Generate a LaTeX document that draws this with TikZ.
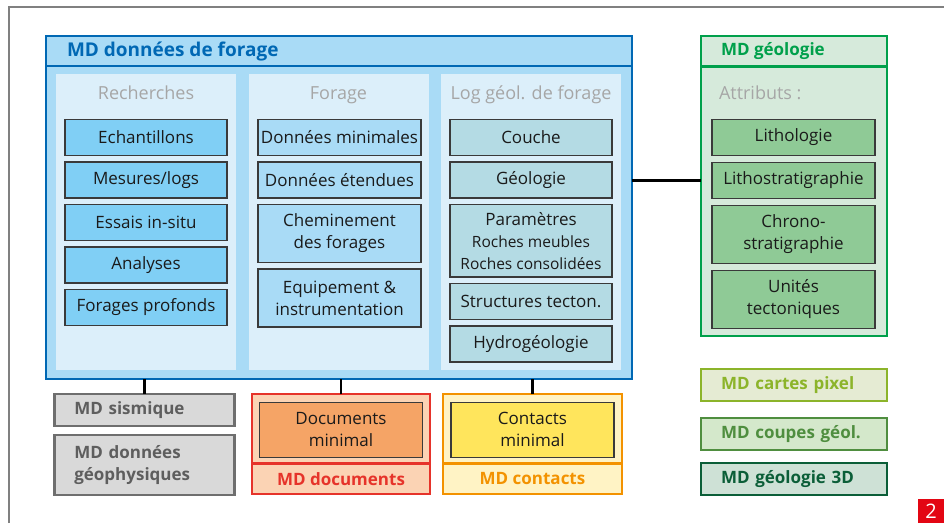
\documentclass[tikz,border=0pt]{standalone}
\usepackage{fontspec}
\setmainfont{Open Sans}
\usetikzlibrary{positioning}
\definecolor{framegray}{HTML}{808080}
\definecolor{blueDark}{HTML}{0068B4}
\definecolor{blueFill}{HTML}{A9DBF6}
\definecolor{blueCol}{HTML}{DCEFFA}
\definecolor{blueItem}{HTML}{80CFF5}
\definecolor{tealItem}{HTML}{B4DBE4}
\definecolor{headGray}{HTML}{A6A6A6}
\definecolor{itemLine}{HTML}{3A3A3A}
\definecolor{itemText}{HTML}{1A1A1A}
\definecolor{greenLine}{HTML}{00A04B}
\definecolor{greenFill}{HTML}{D6EADB}
\definecolor{greenItem}{HTML}{8FCA96}
\definecolor{grayLine}{HTML}{6E6E6E}
\definecolor{grayFill}{HTML}{D9D9D9}
\definecolor{grayText}{HTML}{5E5E5E}
\definecolor{redLine}{HTML}{E6332A}
\definecolor{redFill}{HTML}{FBD3B4}
\definecolor{orangeItem}{HTML}{F5A466}
\definecolor{orangeLine}{HTML}{F39200}
\definecolor{yellowFill}{HTML}{FFF3C5}
\definecolor{yellowItem}{HTML}{FFE55C}
\definecolor{pixLine}{HTML}{8CB42A}
\definecolor{pixFill}{HTML}{E5EBD3}
\definecolor{cutLine}{HTML}{4F8E3F}
\definecolor{cutFill}{HTML}{D4E8CB}
\definecolor{solidLine}{HTML}{0B5E38}
\definecolor{solidFill}{HTML}{CEE1D6}
\definecolor{numRed}{HTML}{E30613}
\newcommand{\itemfont}{\fontsize{17}{22}\selectfont}
\newcommand{\headfont}{\fontsize{18}{22}\selectfont}
\newcommand{\smallfont}{\fontsize{15.5}{20}\selectfont}
\newcommand{\titlefont}{\bfseries\fontsize{17}{22}\selectfont}

\begin{document}
\begin{tikzpicture}[x=1pt, y=-1pt, node distance=6.5pt,
  every node/.style={inner sep=0pt, outer sep=0pt},
  mdbox/.style={line width=2.5pt, minimum width=#1},
  mditem/.style={draw=itemLine, line width=1.4pt, minimum width=162pt, minimum height=36pt, align=center, text=itemText, font=\itemfont},
  tallitem/.style={mditem, minimum height=58pt},
  colbg/.style={fill=blueCol, minimum width=180pt, minimum height=296pt},
  colhead/.style={text=headGray, font=\headfont, text height=13pt, text depth=4pt},
  sidebox/.style={line width=2.5pt, inner xsep=20pt, text width=#1, align=left, font=\titlefont},
  stem/.style={line width=2.5pt}]
\useasboundingbox (0,0) rectangle (944,523);
\draw[framegray, line width=2pt] (9,523) -- (9,7) -- (944,7);

% MD donnees de forage
\node[mdbox=586pt, draw=blueDark, fill=blueFill, minimum height=343pt] (forage) at (339,207.5) {};
\coordinate (fsep) at (0,66);
\draw[blueDark, line width=2.5pt] (forage.west |- fsep) -- (forage.east |- fsep);
\node[anchor=west, text=blueDark, font=\bfseries\fontsize{19}{22}\selectfont] (ftitle) at (67,51) {MD données de forage};
\node[colbg] (c1) at (146,222) {};
\node[colbg] (c2) at (338.5,222) {};
\node[colbg] (c3) at (531,222) {};
\node[colhead] (h1) at (146,95) {Recherches};
\node[colhead] (h2) at (338.5,95) {Forage};
\node[colhead] (h3) at (531,95) {Log géol. de forage};

\node[mditem, fill=blueItem] (r1) at (146,137.5) {Echantillons};
\node[mditem, fill=blueItem, below=of r1] (r2) {Mesures/logs};
\node[mditem, fill=blueItem, below=of r2] (r3) {Essais in-situ};
\node[mditem, fill=blueItem, below=of r3] (r4) {Analyses};
\node[mditem, fill=blueItem, below=of r4] (r5) {Forages profonds};

\node[mditem, fill=blueFill, minimum width=163pt] (f1) at (339.5,137.5) {Données minimales};
\node[mditem, fill=blueFill, minimum width=163pt, below=of f1] (f2) {Données étendues};
\node[tallitem, fill=blueFill, minimum width=163pt, below=of f2] (f3) {Cheminement\\des forages};
\node[tallitem, fill=blueFill, minimum width=163pt, below=of f3] (f4) {Equipement \&\\instrumentation};

\node[mditem, fill=tealItem] (l1) at (531,137.5) {Couche};
\node[mditem, fill=tealItem, below=of l1] (l2) {Géologie};
\node[mditem, fill=tealItem, minimum height=72.5pt, below=of l2] (l3) {Paramètres\\\smallfont Roches meubles\\\smallfont Roches consolidées};
\node[mditem, fill=tealItem, below=of l3] (l4) {Structures tecton.};
\node[mditem, fill=tealItem, below=of l4] (l5) {Hydrogéologie};

% MD geologie
\node[mdbox=186pt, draw=greenLine, fill=greenFill, minimum height=300pt] (geol) at (794,186) {};
\coordinate (gsep) at (0,66.5);
\draw[greenLine, line width=2.5pt] (geol.west |- gsep) -- (geol.east |- gsep);
\node[anchor=west, text=greenLine, font=\titlefont] (gtitle) at (721,51) {MD géologie};
\node[anchor=west, colhead] (gattr) at (719,95) {Attributs :};
\node[mditem, fill=greenItem, minimum width=163pt] (g1) at (793.5,137.5) {Lithologie};
\node[mditem, fill=greenItem, minimum width=163pt, below=7pt of g1] (g2) {Lithostratigraphie};
\node[tallitem, fill=greenItem, minimum width=163pt, below=7pt of g2] (g3) {Chrono-\\stratigraphie};
\node[tallitem, fill=greenItem, minimum width=163pt, below=7pt of g3] (g4) {Unités\\tectoniques};

\draw[line width=2.5pt] (forage.east |- g2) -- (geol.west |- g2);

% modeles lies en bas
\node[sidebox=140pt, draw=grayLine, fill=grayFill, text=grayText, minimum height=32pt] (sism) at (144.3,410) {MD sismique};
\node[sidebox=140pt, draw=grayLine, fill=grayFill, text=grayText, minimum height=60pt] (geoph) at (144.3,465) {MD données\\géophysiques};

\node[mdbox=178pt, draw=redLine, fill=redFill, minimum height=100pt] (docs) at (341,444) {};
\coordinate (dsep) at (0,463.3);
\draw[redLine, line width=2.5pt] (docs.west |- dsep) -- (docs.east |- dsep);
\node[mditem, fill=orangeItem, minimum width=162.5pt, minimum height=55pt] (docmin) at (341,429.7) {Documents\\minimal};
\node[text=redLine, font=\titlefont] (doclab) at (341,478.7) {MD documents};

\node[mdbox=179pt, draw=orangeLine, fill=yellowFill, minimum height=100pt] (cont) at (532.5,444) {};
\draw[orangeLine, line width=2.5pt] (cont.west |- dsep) -- (cont.east |- dsep);
\node[mditem, fill=yellowItem, minimum width=163pt, minimum height=55pt] (contmin) at (532.5,429.7) {Contacts\\minimal};
\node[text=orangeLine, font=\titlefont] (contlab) at (532.5,478.7) {MD contacts};

\draw[stem] (sism.north) -- (sism.north |- forage.south);
\draw[stem] (docs.north) -- (docs.north |- forage.south);
\draw[stem] (cont.north) -- (cont.north |- forage.south);

% modeles a droite
\node[sidebox=146pt, draw=pixLine, fill=pixFill, text=pixLine, minimum height=32pt] (pix) at (794,385) {MD cartes pixel};
\node[sidebox=146pt, draw=cutLine, fill=cutFill, text=cutLine, minimum height=32pt] (cut) at (794,434) {MD coupes géol.};
\node[sidebox=146pt, draw=solidLine, fill=solidFill, text=solidLine, minimum height=32pt] (solid) at (794,479) {MD géologie 3D};

\node[fill=numRed, text=white, minimum width=26pt, minimum height=24pt, font=\fontsize{20}{20}\selectfont] (pnum) at (931,511) {2};
\end{tikzpicture}
\end{document}
